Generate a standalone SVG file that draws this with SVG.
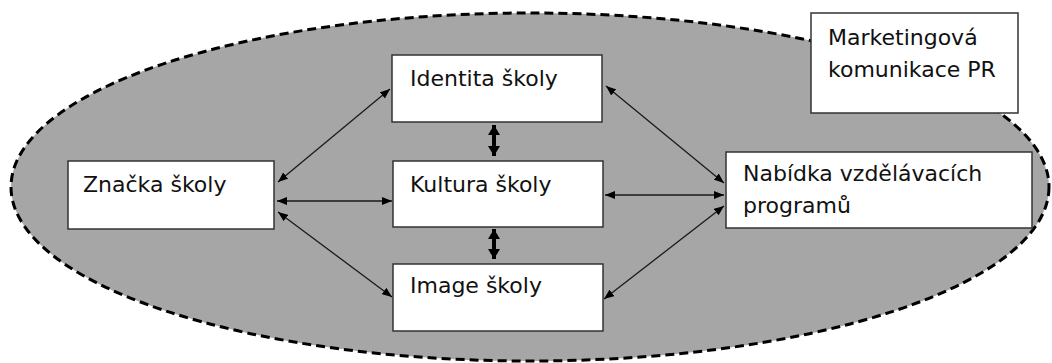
<svg xmlns="http://www.w3.org/2000/svg" width="1052" height="363" viewBox="0 0 1052 363">
<style>
.box{fill:#ffffff;stroke:#333333;stroke-width:1.5}
.lbl{font-family:"DejaVu Sans",Verdana,sans-serif;font-size:22px;fill:#111111}
.thin{stroke:#1a1a1a;stroke-width:1.3;fill:none;marker-start:url(#ah);marker-end:url(#ah)}
.thick{stroke:#000000;stroke-width:4;fill:none;marker-start:url(#bh);marker-end:url(#bh)}
</style>
<defs>
<marker id="ah" viewBox="0 0 10 8" refX="10" refY="4" markerWidth="10" markerHeight="8" markerUnits="userSpaceOnUse" orient="auto-start-reverse">
<path d="M0,0 L10,4 L0,8 z" fill="#000000"/>
</marker>
<marker id="bh" viewBox="0 0 10 12" refX="10" refY="6" markerWidth="10" markerHeight="12" markerUnits="userSpaceOnUse" orient="auto-start-reverse">
<path d="M0,0 L10,6 L0,12 z" fill="#000000"/>
</marker>
</defs>
<rect width="1052" height="363" fill="#ffffff"/>
<ellipse cx="530" cy="187" rx="519" ry="174" fill="#a6a6a6" stroke="#000000" stroke-width="3" stroke-dasharray="9 5"/>
<g id="connectors">
<line class="thin" x1="278" y1="182" x2="390" y2="89"/>
<line class="thin" x1="277" y1="201" x2="392" y2="201"/>
<line class="thin" x1="278" y1="212" x2="392" y2="297"/>
<line class="thin" x1="606" y1="86" x2="724" y2="183"/>
<line class="thin" x1="605" y1="195" x2="724" y2="195"/>
<line class="thin" x1="604" y1="299" x2="724" y2="206"/>
<line class="thick" x1="494" y1="125" x2="494" y2="156"/>
<line class="thick" x1="494" y1="229" x2="494" y2="259"/>
</g>
<g id="identita">
<rect class="box" x="392" y="55" width="210" height="67"/>
<text class="lbl" x="410" y="86">Identita školy</text>
</g>
<g id="kultura">
<rect class="box" x="393" y="161" width="210" height="66"/>
<text class="lbl" x="410" y="192">Kultura školy</text>
</g>
<g id="image">
<rect class="box" x="393" y="264" width="210" height="67"/>
<text class="lbl" x="410" y="293">Image školy</text>
</g>
<g id="znacka">
<rect class="box" x="68" y="161" width="206" height="68"/>
<text class="lbl" x="83" y="192">Značka školy</text>
</g>
<g id="marketing">
<rect class="box" x="811" y="13" width="207" height="100"/>
<text class="lbl" x="828" y="45">Marketingová</text>
<text class="lbl" x="828" y="77">komunikace PR</text>
</g>
<g id="nabidka">
<rect class="box" x="726" y="152" width="306" height="76"/>
<text class="lbl" x="743" y="181">Nabídka vzdělávacích</text>
<text class="lbl" x="743" y="213">programů</text>
</g>
</svg>
